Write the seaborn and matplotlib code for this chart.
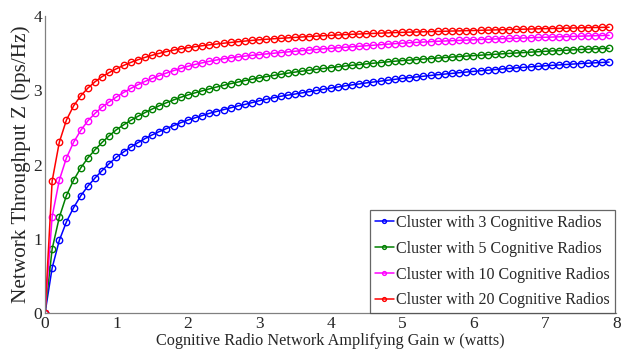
import numpy as np
import pandas as pd
import matplotlib
matplotlib.use("Agg")
import matplotlib.pyplot as plt
import seaborn as sns

# Amplifying gain grid (watts), one sample every 0.1 W
gain_w = np.round(np.arange(0, 80) * 0.1, 1)

# Network throughput Z (bps/Hz) for each cluster size
z_cr3 = [0.0, 0.61, 0.98, 1.23, 1.42, 1.58, 1.71, 1.82, 1.92, 2.015,
         2.10, 2.17, 2.235, 2.295, 2.35, 2.40, 2.445, 2.485, 2.525, 2.565,
         2.60, 2.63, 2.66, 2.69, 2.715, 2.74, 2.765, 2.79, 2.81, 2.835,
         2.86, 2.88, 2.90, 2.92, 2.935, 2.95, 2.966, 2.982, 2.998, 3.014,
         3.03, 3.045, 3.06, 3.073, 3.086, 3.10, 3.112, 3.124, 3.136, 3.148,
         3.16, 3.17, 3.18, 3.19, 3.20, 3.21, 3.219, 3.228, 3.237, 3.246,
         3.255, 3.263, 3.271, 3.279, 3.287, 3.295, 3.302, 3.309, 3.316, 3.323,
         3.33, 3.336, 3.342, 3.348, 3.354, 3.36, 3.365, 3.37, 3.375, 3.38]

z_cr5 = [0.0, 0.865, 1.29, 1.585, 1.79, 1.955, 2.09, 2.20, 2.30, 2.39,
         2.47, 2.535, 2.595, 2.65, 2.70, 2.748, 2.793, 2.833, 2.871, 2.906,
         2.938, 2.966, 2.993, 3.019, 3.044, 3.068, 3.09, 3.111, 3.131, 3.15,
         3.168, 3.185, 3.201, 3.216, 3.231, 3.245, 3.258, 3.271, 3.283, 3.295,
         3.306, 3.317, 3.327, 3.337, 3.346, 3.356, 3.365, 3.374, 3.383, 3.392,
         3.40, 3.407, 3.414, 3.421, 3.428, 3.435, 3.441, 3.448, 3.454, 3.461,
         3.467, 3.473, 3.479, 3.485, 3.491, 3.497, 3.503, 3.508, 3.514, 3.519,
         3.525, 3.53, 3.535, 3.54, 3.545, 3.55, 3.554, 3.558, 3.562, 3.565]

z_cr10 = [0.0, 1.30, 1.79, 2.09, 2.30, 2.46, 2.59, 2.69, 2.775, 2.845,
          2.91, 2.97, 3.025, 3.075, 3.12, 3.16, 3.198, 3.233, 3.265, 3.295,
          3.323, 3.348, 3.37, 3.39, 3.408, 3.424, 3.438, 3.45, 3.461, 3.471,
          3.48, 3.49, 3.499, 3.508, 3.517, 3.526, 3.534, 3.542, 3.55, 3.558,
          3.565, 3.572, 3.579, 3.586, 3.593, 3.60, 3.607, 3.614, 3.621, 3.628,
          3.634, 3.64, 3.645, 3.65, 3.655, 3.66, 3.664, 3.668, 3.672, 3.676,
          3.68, 3.684, 3.687, 3.691, 3.694, 3.698, 3.701, 3.704, 3.708, 3.711,
          3.714, 3.717, 3.72, 3.723, 3.726, 3.729, 3.732, 3.735, 3.737, 3.74]

z_cr20 = [0.0, 1.78, 2.30, 2.60, 2.79, 2.925, 3.03, 3.115, 3.185, 3.24,
          3.29, 3.335, 3.375, 3.411, 3.443, 3.472, 3.498, 3.521, 3.541, 3.558,
          3.573, 3.587, 3.60, 3.612, 3.623, 3.634, 3.644, 3.654, 3.663, 3.672,
          3.68, 3.687, 3.694, 3.70, 3.706, 3.712, 3.718, 3.724, 3.729, 3.735,
          3.74, 3.745, 3.75, 3.754, 3.758, 3.762, 3.766, 3.77, 3.773, 3.777,
          3.78, 3.783, 3.785, 3.788, 3.79, 3.793, 3.795, 3.798, 3.80, 3.803,
          3.805, 3.808, 3.81, 3.813, 3.815, 3.818, 3.82, 3.823, 3.825, 3.828,
          3.83, 3.832, 3.834, 3.837, 3.839, 3.841, 3.843, 3.845, 3.847, 3.849]

series_labels = ["Cluster with 3 Cognitive Radios",
                 "Cluster with 5 Cognitive Radios",
                 "Cluster with 10 Cognitive Radios",
                 "Cluster with 20 Cognitive Radios"]
series_values = [z_cr3, z_cr5, z_cr10, z_cr20]
series_colors = ["#0000ff", "#008000", "#ff00ff", "#ff0000"]

x_ticks = [0, 1, 2, 3, 4, 5, 6, 7, 8]
y_ticks = [0, 1, 2, 3, 4]

sns.set_style("white")
plt.rcParams["font.family"] = ["Liberation Serif", "DejaVu Serif"]

fig = plt.figure(figsize=(6.25, 3.56), dpi=100)
ax = fig.add_axes([0.072, 0.12, 0.914, 0.835])

for label, vals, col in zip(series_labels, series_values, series_colors):
    df = pd.DataFrame({"w": gain_w, "z": vals})
    sns.lineplot(data=df, x="w", y="z", ax=ax, color=col, linewidth=1.1,
                 marker="o", markersize=4.6, markerfacecolor="none",
                 markeredgecolor=col, markeredgewidth=1.0, label=label,
                 estimator=None, sort=False)

ax.set_xlim(0, 8)
ax.set_ylim(0, 4)
ax.set_xticks(x_ticks)
ax.set_yticks(y_ticks)
ax.tick_params(direction="in", length=5, width=0.8, color="#808080",
               labelsize=12.5, pad=2)

for side in ["top", "right"]:
    ax.spines[side].set_visible(False)
for side in ["left", "bottom"]:
    ax.spines[side].set_color("#808080")
    ax.spines[side].set_linewidth(0.9)

ax.set_xlabel("Cognitive Radio Network Amplifying Gain w (watts)", fontsize=11.7,
              labelpad=1)
ax.set_ylabel("Network Throughput Z (bps/Hz)", fontsize=15.3, labelpad=1.5)

leg = ax.legend(loc="lower right", bbox_to_anchor=(0.997, 0.0),
                borderaxespad=0, fontsize=11.5, frameon=True, fancybox=False,
                handlelength=1.15, handletextpad=0.15, borderpad=0.3,
                labelspacing=0.62, markerscale=0.6)
leg.get_frame().set_edgecolor("#404040")
leg.get_frame().set_linewidth(0.9)

fig.savefig("out.png", dpi=100)
